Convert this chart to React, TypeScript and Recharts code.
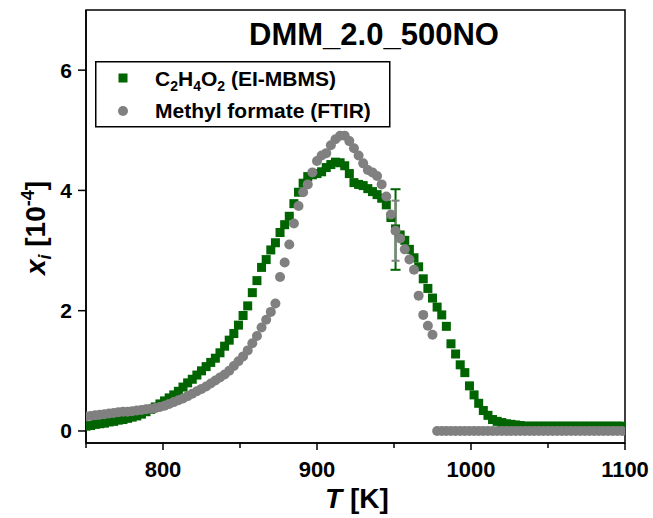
import React from 'react';
import { ScatterChart, Scatter, XAxis, YAxis, ErrorBar, ReferenceArea } from 'recharts';

// temperature grid [K]
const temps = [
  750, 753, 756, 759, 762, 765, 768, 771, 774, 777,
  780, 783, 786, 789, 792, 795, 798, 801, 804, 807,
  810, 813, 816, 819, 822, 825, 828, 831, 834, 837,
  840, 843, 846, 849, 852, 855, 858, 861, 864, 867,
  870, 873, 876, 879, 882, 885, 888, 891, 894, 897,
  900, 903, 906, 909, 912, 915, 918, 921, 924, 927,
  930, 933, 936, 939, 942, 945, 948, 951, 954, 957,
  960, 963, 966, 969, 972, 975, 978, 981, 984, 987,
  990, 993, 996, 999, 1002, 1005, 1008, 1011, 1014, 1017,
  1020, 1023, 1026, 1029, 1032, 1035, 1038, 1041, 1044, 1047,
  1050, 1053, 1056, 1059, 1062, 1065, 1068, 1071, 1074, 1077,
  1080, 1083, 1086, 1089, 1092, 1095, 1098,
];

// C2H4O2 (EI-MBMS), mole fraction in 1e-4
const c2h4o2 = [
  0.08, 0.09, 0.11, 0.12, 0.13, 0.15, 0.16, 0.18, 0.19, 0.21,
  0.23, 0.25, 0.28, 0.32, 0.36, 0.40, 0.45, 0.50, 0.55, 0.60,
  0.66, 0.73, 0.80, 0.86, 0.93, 1.00, 1.07, 1.14, 1.21, 1.30,
  1.41, 1.51, 1.62, 1.76, 1.92, 2.08, 2.30, 2.50, 2.72, 2.85,
  3.01, 3.13, 3.30, 3.43, 3.57, 3.78, 3.97, 4.12, 4.23, 4.26,
  4.28, 4.31, 4.38, 4.43, 4.47, 4.46, 4.41, 4.28, 4.13, 4.10,
  4.08, 4.03, 3.98, 3.93, 3.87, 3.76, 3.55, 3.36, 3.26, 3.17,
  3.02, 2.88, 2.73, 2.53, 2.37, 2.21, 2.06, 1.93, 1.74, 1.45,
  1.28, 1.10, 0.97, 0.75, 0.60, 0.46, 0.34, 0.26, 0.19, 0.16,
  0.14, 0.12, 0.11, 0.10, 0.09, 0.08, 0.08, 0.08, 0.08, 0.08,
  0.08, 0.08, 0.08, 0.08, 0.08, 0.08, 0.08, 0.08, 0.08, 0.08,
  0.08, 0.08, 0.08, 0.08, 0.08, 0.08, 0.08,
];

// Methyl formate (FTIR)
const methylFormate = [
  0.24, 0.25, 0.26, 0.27, 0.28, 0.29, 0.30, 0.31, 0.32, 0.32,
  0.33, 0.34, 0.35, 0.36, 0.37, 0.38, 0.40, 0.42, 0.45, 0.48,
  0.51, 0.54, 0.58, 0.62, 0.66, 0.70, 0.74, 0.79, 0.84, 0.89,
  0.94, 1.00, 1.08, 1.16, 1.24, 1.34, 1.46, 1.58, 1.72, 1.85,
  1.98, 2.12, 2.56, 2.80, 3.10, 3.45, 3.74, 3.97, 4.10, 4.30,
  4.49, 4.58, 4.62, 4.75, 4.85, 4.91, 4.91, 4.82, 4.70, 4.58,
  4.45, 4.34, 4.30, 4.24, 4.10, 3.90, 3.60, 3.33, 3.20, 3.02,
  2.85, 2.68, 2.25, 1.93, 1.75, 1.60, 0, 0, 0, 0,
  0, 0, 0, 0, 0, 0, 0, 0, 0, 0,
  0, 0, 0, 0, 0, 0, 0, 0, 0, 0,
  0, 0, 0, 0, 0, 0, 0, 0, 0, 0,
  0, 0, 0, 0, 0, 0, 0,
];

// error bars at one temperature
const errTemp = [951];
const errGreenMid = [3.35];
const errGreenHalf = [0.67];
const errGrayMid = [3.33];
const errGrayHalf = [0.5];

const xTicks = [750, 800, 850, 900, 950, 1000, 1050, 1100];
const yTicks = [0, 2, 4, 6];

const GREEN = '#006400';
const GRAY = '#808080';
const FONT = '"Liberation Sans", Arial, Helvetica, sans-serif';

const greenData = temps.map((T, i) => ({ T, v: c2h4o2[i] }));
const grayData = temps.map((T, i) => ({ T, v: methylFormate[i] }));
const greenErr = errTemp.map((T, i) => ({ T, v: errGreenMid[i], err: errGreenHalf[i] }));
const grayErr = errTemp.map((T, i) => ({ T, v: errGrayMid[i], err: errGrayHalf[i] }));

const square = (p: any) => (
  <rect x={p.cx - 4.5} y={p.cy - 4.5} width={9} height={9} fill={GREEN} />
);
const dot = (p: any) => <circle cx={p.cx} cy={p.cy} r={5} fill={GRAY} />;
const nothing = () => <g />;

const XTick = (props: any) => {
  const { x, y, payload } = props;
  const major = payload.value % 100 === 0;
  return (
    <g>
      <line x1={x} x2={x} y1={y} y2={y + (major ? 7 : 5)} stroke="#000" strokeWidth={1.5} />
      {major && payload.value !== 750 && (
        <text x={x} y={y + 34} textAnchor="middle" fontFamily={FONT} fontWeight="bold" fontSize={22} fill="#000">
          {payload.value}
        </text>
      )}
    </g>
  );
};

const YTick = (props: any) => {
  const { x, y, payload } = props;
  return (
    <g>
      <line x1={x - 8} x2={x} y1={y} y2={y} stroke="#000" strokeWidth={1.5} />
      <text x={x - 14} y={y + 7.5} textAnchor="end" fontFamily={FONT} fontWeight="bold" fontSize={21} fill="#000">
        {payload.value}
      </text>
    </g>
  );
};

export default function App() {
  return (
    <div style={{ position: 'absolute', left: 0, top: 0, width: 653, height: 518, background: '#fff', fontFamily: FONT }}>
      <ScatterChart width={653} height={518} margin={{ top: 10, right: 28, bottom: 35, left: 36 }}>
        <XAxis
          type="number"
          dataKey="T"
          domain={[750, 1100]}
          ticks={xTicks}
          allowDataOverflow
          height={40}
          tickSize={0}
          tickMargin={0}
          tickLine={false}
          tick={<XTick />}
          axisLine={{ stroke: '#000', strokeWidth: 1.5 }}
        />
        <YAxis
          type="number"
          dataKey="v"
          domain={[-0.2, 7]}
          ticks={yTicks}
          allowDataOverflow
          width={50}
          tickSize={0}
          tickMargin={0}
          tickLine={false}
          tick={<YTick />}
          axisLine={{ stroke: '#000', strokeWidth: 1.5 }}
        />
        <ReferenceArea x1={750} x2={1100} y1={-0.2} y2={7} fill="none" stroke="#000" strokeWidth={1.5} />
        <Scatter data={greenData} shape={square} isAnimationActive={false} />
        <Scatter data={grayData} shape={dot} isAnimationActive={false} />
        <Scatter data={greenErr} shape={nothing} isAnimationActive={false}>
          <ErrorBar dataKey="err" direction="y" width={5} stroke={GREEN} strokeWidth={2} isAnimationActive={false} />
        </Scatter>
        <Scatter data={grayErr} shape={nothing} isAnimationActive={false}>
          <ErrorBar dataKey="err" direction="y" width={4} stroke={GRAY} strokeWidth={2} isAnimationActive={false} />
        </Scatter>
      </ScatterChart>

      <svg width={653} height={518} style={{ position: 'absolute', left: 0, top: 0, pointerEvents: 'none' }}>
        <text x={374} y={45} textAnchor="middle" fontFamily={FONT} fontWeight="bold" fontSize={31} fill="#000">
          DMM_2.0_500NO
        </text>

        <rect x={95.75} y={61.75} width={294} height={65} fill="#fff" stroke="#000" strokeWidth={1.5} />
        <rect x={118.5} y={73.5} width={9} height={9} fill={GREEN} />
        <circle cx={123} cy={111} r={5} fill={GRAY} />
        <text x={155} y={86} fontFamily={FONT} fontWeight="bold" fontSize={21} fill="#000">
          <tspan>C</tspan>
          <tspan fontSize={14} dy={5}>2</tspan>
          <tspan dy={-5}>H</tspan>
          <tspan fontSize={14} dy={5}>4</tspan>
          <tspan dy={-5}>O</tspan>
          <tspan fontSize={14} dy={5}>2</tspan>
          <tspan dy={-5}> (EI-MBMS)</tspan>
        </text>
        <text x={155} y={118} fontFamily={FONT} fontWeight="bold" fontSize={21} fill="#000">
          Methyl formate (FTIR)
        </text>

        <text x={357} y={508} textAnchor="middle" fontFamily={FONT} fontWeight="bold" fontSize={28} fill="#000">
          <tspan fontStyle="italic">T</tspan>
          <tspan> [K]</tspan>
        </text>

        <text transform="translate(45,228) rotate(-90)" textAnchor="middle" fontFamily={FONT} fontWeight="bold" fontSize={28} fill="#000">
          <tspan fontStyle="italic">x</tspan>
          <tspan fontStyle="italic" fontSize={18} dy={6}>i</tspan>
          <tspan dy={-6}> [10</tspan>
          <tspan fontSize={18} dy={-11}>-4</tspan>
          <tspan dy={11}>]</tspan>
        </text>
      </svg>
    </div>
  );
}
